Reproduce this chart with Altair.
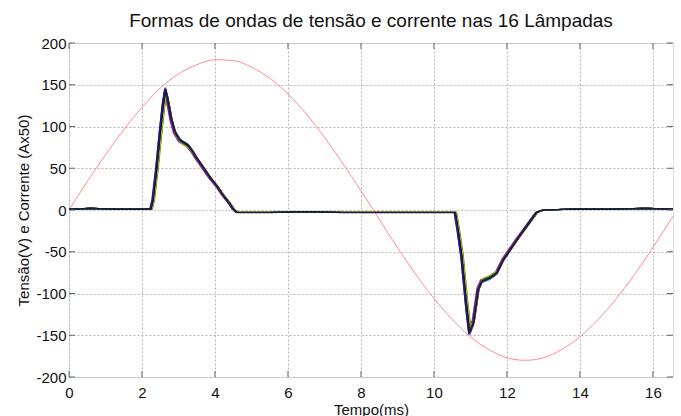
import altair as alt
import pandas as pd

# Supply voltage over one 60 Hz cycle, sampled every 0.5 ms (V)
v_time = [0.0, 0.5, 1.0, 1.5, 2.0, 2.5, 3.0, 3.5, 4.0, 4.5, 5.0, 5.5, 6.0, 6.5,
          7.0, 7.5, 8.0, 8.5, 9.0, 9.5, 10.0, 10.5, 11.0, 11.5, 12.0, 12.5,
          13.0, 13.5, 14.0, 14.5, 15.0, 15.5, 16.0, 16.5, 16.67]
v_value = [0, 34, 66, 96, 123, 146, 163, 174, 180, 179, 171, 158, 139, 115,
           87, 56, 23, -11, -45, -77, -106, -131, -152, -167, -177, -180,
           -177, -167, -152, -131, -106, -77, -45, -11, 0]

# Typical lamp current waveform (A x 50)
i_time = [0.0, 0.6, 1.2, 1.8, 2.24, 2.30, 2.40, 2.50, 2.58, 2.64, 2.70, 2.80,
          2.90, 3.04, 3.15, 3.26, 3.38, 3.49, 3.65, 3.85, 4.05, 4.22, 4.38,
          4.50, 4.60, 5.5, 6.5, 7.5, 8.5, 9.5, 10.58, 10.66, 10.76, 10.89,
          10.97, 11.08, 11.21, 11.31, 11.42, 11.53, 11.72, 11.90, 12.10,
          12.27, 12.45, 12.63, 12.81, 12.99, 13.8, 14.8, 15.8, 16.67]
i_value = [1, 2, 1, 1, 1, 12, 50, 95, 128, 145, 134, 110, 94, 84, 81, 78, 71,
           63, 53, 40, 29, 18, 9, 1, -3, -3, -2, -3, -3, -3, -3, -25, -56,
           -116, -148, -136, -96, -86, -84, -82, -76, -60, -47, -36, -25,
           -14, -3, 0, 1, 1, 2, 1]

# Per-lamp timing offsets (ms) and amplitude factors for the 16 lamps
lamp_shift = [0.03, -0.03, 0.02, 0.01, 0.04, -0.01, 0.01, 0.02, -0.01, -0.03,
              0.01, 0.03, -0.02, 0.00, 0.01, 0.00]
lamp_gain = [0.97, 0.98, 0.97, 1.01, 0.96, 0.99, 1.00, 0.98, 1.01, 0.97,
             0.99, 0.95, 1.00, 0.98, 0.99, 1.00]

# MATLAB-style line colours, dark traces drawn last
lamp_colors = ["#ff0000", "#bfbf00", "#00bfbf", "#bf00bf", "#008000",
               "#0000ff", "#404040", "#ff0000", "#00bfbf", "#bf00bf",
               "#008000", "#bfbf00", "#0000ff", "#008000", "#000080",
               "#202020"]

rows = []
for k, (dt, g) in enumerate(zip(lamp_shift, lamp_gain)):
    for t, v in zip(i_time, i_value):
        rows.append({"lamp": f"L{k + 1:02d}", "t": t + dt, "v": v * g})
current = pd.DataFrame(rows)
voltage = pd.DataFrame({"t": v_time, "v": v_value})

lamp_names = [f"L{k + 1:02d}" for k in range(16)]

FONT = "Liberation Sans"
X_DOMAIN = [0, 16.55]
Y_DOMAIN = [-200, 200]

x_ticks = [0, 2, 4, 6, 8, 10, 12, 14, 16]
y_ticks = [-200, -150, -100, -50, 0, 50, 100, 150, 200]

x_enc = alt.X("t:Q", scale=alt.Scale(domain=X_DOMAIN, nice=False, zero=False),
              axis=alt.Axis(values=x_ticks, title="Tempo(ms)",
                            labelExpr="'' + datum.value",
                            grid=True, ticks=False, tickSize=0, labelPadding=8,
                            labelFontSize=15, labelFont=FONT, labelColor="#111",
                            titleFontSize=15, titleFont=FONT, titleColor="#111",
                            titleFontWeight="normal", titleX=302, titleY=25,
                            titleBaseline="top", domain=False,
                            gridDash=[2, 2], gridColor="#b5b5b5",
                            labelFlush=False))
y_enc = alt.Y("v:Q", scale=alt.Scale(domain=Y_DOMAIN, nice=False),
              axis=alt.Axis(values=y_ticks, title="Tensão(V) e Corrente (Ax50)",
                            labelExpr="'' + datum.value",
                            grid=True, ticks=False, tickSize=0, labelPadding=3,
                            labelFontSize=15, labelFont=FONT, labelColor="#111",
                            titleFontSize=15, titleFont=FONT, titleColor="#111",
                            titleFontWeight="normal", titleX=-46, titleY=167,
                            titleAngle=-90, titleBaseline="middle",
                            titleAlign="center", domain=False,
                            gridDash=[2, 2], gridColor="#b5b5b5",
                            labelFlush=False))

volt_line = alt.Chart(voltage).mark_line(
    color="#ff8c8c", strokeWidth=1, interpolate="monotone", clip=True
).encode(x=x_enc, y=y_enc)

curr_lines = alt.Chart(current).mark_line(
    strokeWidth=1.2, clip=True, opacity=0.9
).encode(
    x="t:Q", y="v:Q",
    color=alt.Color("lamp:N", scale=alt.Scale(domain=lamp_names, range=lamp_colors),
                    legend=None),
    order=alt.Order("t:Q"),
)

# Inward tick marks on the four sides of the box
tick_x = pd.DataFrame({"t": x_ticks})
tick_y = pd.DataFrame({"v": y_ticks})
ticks_bottom = alt.Chart(tick_x).mark_rule(color="#666", strokeWidth=1).encode(
    x="t:Q", y=alt.value(334), y2=alt.value(328))
ticks_top = alt.Chart(tick_x).mark_rule(color="#666", strokeWidth=1).encode(
    x="t:Q", y=alt.value(0), y2=alt.value(6))
ticks_left = alt.Chart(tick_y).mark_rule(color="#666", strokeWidth=1).encode(
    y="v:Q", x=alt.value(0), x2=alt.value(6))
ticks_right = alt.Chart(tick_y).mark_rule(color="#666", strokeWidth=1).encode(
    y="v:Q", x=alt.value(604), x2=alt.value(598))

chart = alt.layer(
    volt_line, curr_lines, ticks_bottom, ticks_top, ticks_left, ticks_right
).properties(
    width=604, height=334,
    title=alt.TitleParams("Formas de ondas de tensão e corrente nas 16 Lâmpadas",
                          font=FONT, fontSize=19, fontWeight="normal",
                          color="#111", anchor="middle", frame="group",
                          baseline="alphabetic", offset=14, dy=24),
    padding={"left": 69, "top": 43, "right": 8, "bottom": 39},
    autosize=alt.AutoSizeParams(type="none"),
).configure_view(
    stroke="#8c8c8c", strokeWidth=1
).configure(background="white")

chart.save("out.html", embed_options={"renderer": "svg", "actions": False})
